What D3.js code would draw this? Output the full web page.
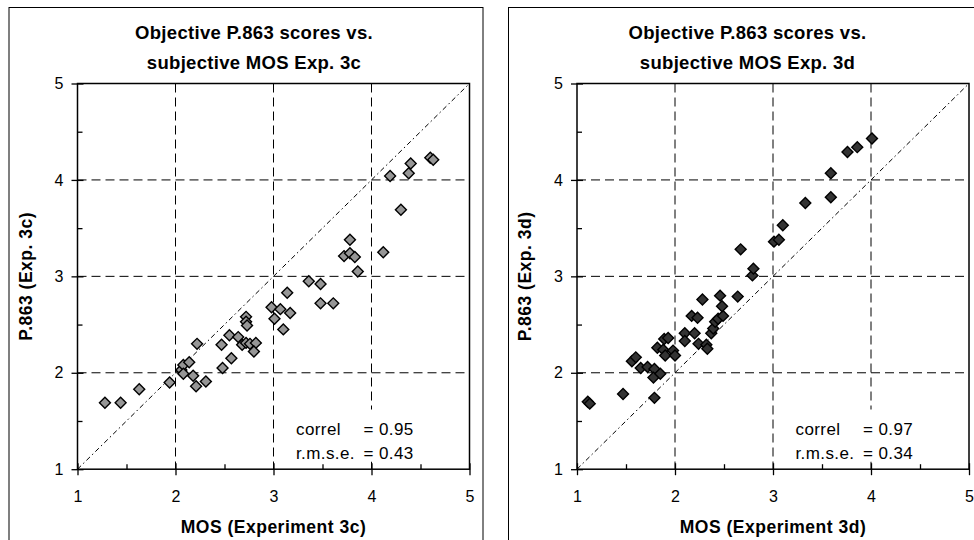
<!DOCTYPE html>
<html>
<head>
<meta charset="utf-8">
<script src="https://cdn.jsdelivr.net/npm/d3@7"></script>
<style>
  body { margin: 0; background: #fff; }
  svg { display: block; font-family: "Liberation Sans", Arial, sans-serif; }
</style>
</head>
<body>
<div id="content"></div>
<script>
// Experiment 3c: subjective MOS vs objective P.863
var mos3c = [1.28, 1.44, 1.63, 1.94, 2.06, 2.08, 2.14, 2.08, 2.18, 2.21, 2.31, 2.22,
    2.48, 2.57, 2.47, 2.55, 2.64, 2.68, 2.72, 2.76, 2.82, 2.80, 2.72, 2.72, 2.73,
    2.98, 3.07, 3.17, 3.01, 3.10, 3.14, 3.36, 3.48, 3.48, 3.61, 3.78, 3.72, 3.78,
    3.83, 3.86, 4.12, 4.30, 4.19, 4.38, 4.40, 4.60, 4.63];
var p863_3c = [1.69, 1.69, 1.83, 1.90, 2.03, 2.08, 2.11, 1.99, 1.97, 1.86, 1.91, 2.30,
    2.05, 2.15, 2.29, 2.39, 2.37, 2.29, 2.31, 2.30, 2.31, 2.22, 2.58, 2.53, 2.49,
    2.68, 2.66, 2.62, 2.56, 2.45, 2.83, 2.95, 2.92, 2.72, 2.72, 3.38, 3.21, 3.24,
    3.20, 3.05, 3.25, 3.69, 4.04, 4.07, 4.17, 4.23, 4.21];

// Experiment 3d
var mos3d = [1.11, 1.13, 1.47, 1.79, 1.56, 1.60, 1.65, 1.72, 1.79, 1.78, 1.85, 1.82,
    1.88, 1.90, 1.89, 1.93, 1.98, 2.00, 2.10, 2.10, 2.20, 2.24, 2.32, 2.33, 2.37,
    2.39, 2.41, 2.44, 2.49, 2.48, 2.46, 2.64, 2.28, 2.17, 2.23, 2.79, 2.80, 2.67,
    3.01, 3.06, 3.10, 3.33, 3.59, 3.59, 3.76, 3.86, 4.01];
var p863_3d = [1.70, 1.68, 1.78, 1.74, 2.12, 2.16, 2.05, 2.06, 2.04, 1.95, 1.99, 2.26,
    2.24, 2.18, 2.35, 2.36, 2.23, 2.18, 2.41, 2.33, 2.41, 2.30, 2.29, 2.25, 2.41,
    2.46, 2.53, 2.56, 2.59, 2.69, 2.80, 2.79, 2.76, 2.59, 2.57, 3.01, 3.08, 3.28,
    3.36, 3.38, 3.53, 3.76, 3.82, 4.07, 4.29, 4.34, 4.43];

var majorTicks = [1, 2, 3, 4, 5];
var minorTicks = [1.5, 2.5, 3.5, 4.5];
var gridTicks = [2, 3, 4];

var titles3c = ["Objective P.863 scores vs.", "subjective MOS Exp. 3c"];
var titles3d = ["Objective P.863 scores vs.", "subjective MOS Exp. 3d"];
var xLabels = ["MOS (Experiment 3c)", "MOS (Experiment 3d)"];
var yLabels = ["P.863 (Exp. 3c)", "P.863 (Exp. 3d)"];
var correls = ["0.95", "0.97"];
var rmses = ["0.43", "0.34"];
var markerFills = ["#969696", "#333333"];

// SVG size
var svgWidth = 974;
var svgHeight = 540;

// Plot area inside each panel frame
var margin = { top: 76, left: 68.5 },
    plotWidth = 392,
    plotHeight = 385.7;

var svg = d3.select("#content").append("svg")
    .attr("width", svgWidth)
    .attr("height", svgHeight);

function drawPanel(panelX, titleX, titles, xs, ys, idx) {
    var panel = svg.append("g")
        .attr("transform", "translate(" + panelX + ",7.5)");

    // Chart frame
    panel.append("rect")
        .attr("x", 0).attr("y", 0)
        .attr("width", 474).attr("height", 560)
        .attr("fill", "#fff")
        .attr("stroke", "#000")
        .attr("stroke-width", 1);

    // Title, two lines
    panel.selectAll(".title")
        .data(titles)
        .enter().append("text")
        .attr("class", "title")
        .attr("x", titleX)
        .attr("y", function (d, i) { return 31 + i * 30; })
        .attr("text-anchor", "middle")
        .attr("font-size", "18.5px")
        .attr("font-weight", "bold")
        .attr("letter-spacing", "0.3px")
        .text(function (d) { return d; });

    var plot = panel.append("g")
        .attr("transform", "translate(" + margin.left + "," + margin.top + ")");

    var xScale = d3.scaleLinear().domain([1, 5]).range([0, plotWidth]);
    var yScale = d3.scaleLinear().domain([1, 5]).range([plotHeight, 0]);

    // Dashed grid
    plot.selectAll(".vgrid")
        .data(gridTicks)
        .enter().append("line")
        .attr("x1", function (d) { return xScale(d); })
        .attr("x2", function (d) { return xScale(d); })
        .attr("y1", 0).attr("y2", plotHeight)
        .attr("stroke", "#000")
        .attr("stroke-dasharray", "9,5");
    plot.selectAll(".hgrid")
        .data(gridTicks)
        .enter().append("line")
        .attr("y1", function (d) { return yScale(d); })
        .attr("y2", function (d) { return yScale(d); })
        .attr("x1", 0).attr("x2", plotWidth)
        .attr("stroke", "#000")
        .attr("stroke-dasharray", "9,5");

    // Identity line
    plot.append("line")
        .attr("x1", xScale(1)).attr("y1", yScale(1))
        .attr("x2", xScale(5)).attr("y2", yScale(5))
        .attr("stroke", "#000")
        .attr("stroke-width", 1)
        .attr("stroke-dasharray", "5,3,1.5,3");

    // Statistics text box (white background hides the grid)
    plot.append("rect")
        .attr("x", 211).attr("y", 326)
        .attr("width", 134).attr("height", 52)
        .attr("fill", "#fff");
    var stats = [["correl", correls[idx]], ["r.m.s.e.", rmses[idx]]];
    stats.forEach(function (s, i) {
        plot.append("text")
            .attr("x", 218.5)
            .attr("y", 351.5 + i * 23.5)
            .attr("font-size", "17px")
            .attr("letter-spacing", "0.4px")
            .text(s[0]);
        plot.append("text")
            .attr("x", 286)
            .attr("y", 351.5 + i * 23.5)
            .attr("font-size", "17px")
            .attr("letter-spacing", "0.4px")
            .text("= " + s[1]);
    });

    // Plot border
    plot.append("rect")
        .attr("width", plotWidth).attr("height", plotHeight)
        .attr("fill", "none")
        .attr("stroke", "#000")
        .attr("stroke-width", 1.5);

    // Major axes (ticks crossing the axis line)
    var xAxis = plot.append("g")
        .attr("transform", "translate(0," + plotHeight + ")")
        .call(d3.axisBottom(xScale).tickValues(majorTicks).tickSize(6).tickPadding(15)
            .tickFormat(d3.format("d")));
    var yAxis = plot.append("g")
        .call(d3.axisLeft(yScale).tickValues(majorTicks).tickSize(6).tickPadding(8)
            .tickFormat(d3.format("d")));
    xAxis.selectAll(".tick line").attr("y1", -6);
    yAxis.selectAll(".tick line").attr("x1", 6);

    // Minor ticks pointing inward
    var xMinor = plot.append("g")
        .attr("transform", "translate(0," + plotHeight + ")")
        .call(d3.axisBottom(xScale).tickValues(minorTicks).tickSize(-5).tickFormat(""));
    var yMinor = plot.append("g")
        .call(d3.axisLeft(yScale).tickValues(minorTicks).tickSize(-5).tickFormat(""));

    [xAxis, yAxis, xMinor, yMinor].forEach(function (a) {
        a.select(".domain").remove();
        a.selectAll("line").attr("stroke", "#000").attr("stroke-width", 1.3);
        a.selectAll("text")
            .attr("font-family", "Liberation Sans, Arial, sans-serif")
            .attr("font-size", "16px")
            .attr("fill", "#000");
    });

    // Axis titles
    plot.append("text")
        .attr("x", plotWidth / 2)
        .attr("y", plotHeight + 64)
        .attr("text-anchor", "middle")
        .attr("font-size", "17.5px")
        .attr("font-weight", "bold")
        .attr("letter-spacing", "0.5px")
        .text(xLabels[idx]);
    plot.append("text")
        .attr("transform", "translate(-46," + (plotHeight / 2) + ") rotate(-90)")
        .attr("text-anchor", "middle")
        .attr("font-size", "17.5px")
        .attr("font-weight", "bold")
        .attr("letter-spacing", "0.5px")
        .text(yLabels[idx]);

    // Data points as diamonds
    var diamond = d3.symbol().type(d3.symbolSquare).size(60);
    plot.selectAll(".pt")
        .data(xs.map(function (d, i) { return [d, ys[i]]; }))
        .enter().append("path")
        .attr("class", "pt")
        .attr("d", diamond)
        .attr("transform", function (d) {
            return "translate(" + xScale(d[0]) + "," + yScale(d[1]) + ") rotate(45)";
        })
        .attr("fill", markerFills[idx])
        .attr("stroke", "#000")
        .attr("stroke-width", 1.4);
}

drawPanel(9, 245, titles3c, mos3c, p863_3c, 0);
drawPanel(508.5, 239, titles3d, mos3d, p863_3d, 1);
</script>
</body>
</html>
